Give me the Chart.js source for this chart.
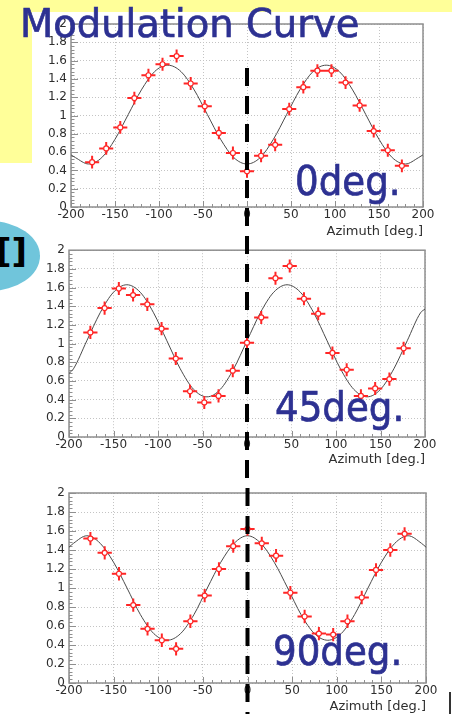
<!DOCTYPE html>
<html>
<head>
<meta charset="utf-8">
<script src="https://cdn.jsdelivr.net/npm/chart.js@4.4.1/dist/chart.umd.min.js"></script>
<style>
  html, body { margin: 0; padding: 0; background: #fff; }
  #page { position: relative; width: 452px; height: 714px; overflow: hidden; background: #fff; }
  .yellow { position: absolute; background: #ffff99; }
  #blob { position: absolute; left: -62px; top: 221px; width: 102px; height: 70px; border-radius: 50%; background: #70c5db; }
  #brackets { position: absolute; left: -4px; top: 234px; font: bold 34px "DejaVu Sans"; line-height: 1; color: #000; }
  #edge { position: absolute; left: 449px; top: 692px; width: 2px; height: 22px; background: #333; }
  canvas { position: absolute; left: 0; }
  .note { position: absolute; font-family: "DejaVu Sans"; color: #2d3192; line-height: 1; white-space: nowrap;
          z-index: 5; -webkit-text-stroke: 0.7px #2d3192; transform-origin: 0 0; }
  .deg { font-size: 40px; transform: scaleX(0.93); }
</style>
</head>
<body>
<div id="page">
  <div class="yellow" style="left:0;top:0;width:452px;height:12px"></div>
  <div class="yellow" style="left:0;top:0;width:32px;height:163px"></div>
  <div id="blob"></div>
  <div id="brackets">[]</div>
  <canvas id="c0"></canvas>
  <canvas id="c45"></canvas>
  <canvas id="c90"></canvas>
  <div class="note" style="left:20px;top:5px;font-size:38.5px">Modulation Curve</div>
  <div class="note deg" style="left:295px;top:161px">0deg.</div>
  <div class="note deg" style="left:275px;top:387px">45deg.</div>
  <div class="note deg" style="left:273px;top:631px">90deg.</div>
  <div id="edge"></div>
</div>
<script>
// bin centres (deg) and normalised counts per polarisation angle
const azimuth = [-176, -160, -144, -128, -112, -96, -80, -64, -48, -32, -16, 0,
                 16, 32, 48, 64, 80, 96, 112, 128, 144, 160, 176];
const counts0  = [0.49, 0.64, 0.87, 1.19, 1.44, 1.56, 1.65, 1.35, 1.10, 0.81, 0.59, 0.39,
                  0.56, 0.68, 1.07, 1.31, 1.49, 1.49, 1.36, 1.11, 0.83, 0.62, 0.45];
const counts45 = [1.12, 1.38, 1.59, 1.52, 1.42, 1.16, 0.84, 0.49, 0.37, 0.44, 0.71, 1.01,
                  1.28, 1.70, 1.83, 1.48, 1.32, 0.90, 0.72, 0.44, 0.52, 0.62, 0.95];
const counts90 = [1.52, 1.37, 1.15, 0.82, 0.57, 0.45, 0.36, 0.65, 0.92, 1.20, 1.44, 1.62,
                  1.47, 1.34, 0.95, 0.70, 0.52, 0.51, 0.65, 0.90, 1.19, 1.40, 1.57];
const xErr = 8;
const yErr = 0.07;

// fitted modulation curves, sampled every 15 deg
const fitAzimuth = [-200, -195, -180, -165, -150, -135, -120, -105, -90, -75, -60, -45, -30, -15, 0,
                    15, 30, 45, 60, 75, 90, 105, 120, 135, 150, 165, 180, 195, 200];
const fit0  = [0.57, 0.54, 0.47, 0.54, 0.74, 1.01, 1.28, 1.48, 1.55, 1.48, 1.28, 1.01, 0.74, 0.54, 0.47,
               0.54, 0.74, 1.01, 1.28, 1.48, 1.55, 1.48, 1.28, 1.01, 0.74, 0.54, 0.47, 0.54, 0.57];
const fit45 = [0.68, 0.73, 1.03, 1.33, 1.55, 1.63, 1.55, 1.33, 1.03, 0.73, 0.51, 0.43, 0.51, 0.73, 1.03,
               1.33, 1.55, 1.63, 1.55, 1.33, 1.03, 0.73, 0.51, 0.43, 0.51, 0.73, 1.03, 1.33, 1.37];
const fit90 = [1.43, 1.47, 1.55, 1.47, 1.27, 1.00, 0.72, 0.52, 0.45, 0.52, 0.72, 1.00, 1.27, 1.47, 1.55,
               1.47, 1.27, 1.00, 0.72, 0.52, 0.45, 0.52, 0.72, 1.00, 1.27, 1.47, 1.55, 1.47, 1.43];

const RED = '#ff2626';
const TEXT = '#2e2e2e';
const FONT = 'DejaVu Sans';

// ROOT-like frame with inward ticks on the bottom and left axes
const frameTicks = {
  id: 'frameTicks',
  beforeDatasetsDraw(chart) {
    const {ctx, chartArea: a, scales: {x, y}} = chart;
    ctx.save();
    ctx.strokeStyle = '#8f8f8f';
    ctx.lineWidth = 1;
    ctx.beginPath();
    for (let v = x.min; v <= x.max; v += 10) {
      const px = Math.round(x.getPixelForValue(v)) + 0.5;
      const len = v % 50 === 0 ? 6 : 3;
      ctx.moveTo(px, a.bottom);
      ctx.lineTo(px, a.bottom - len);
    }
    for (let i = 0; i <= 50; i++) {
      const py = Math.round(y.getPixelForValue(i * 0.04)) + 0.5;
      const len = i % 5 === 0 ? 7 : 3.5;
      ctx.moveTo(a.left, py);
      ctx.lineTo(a.left + len, py);
    }
    ctx.stroke();
    ctx.lineWidth = 1.5;
    ctx.strokeRect(a.left, a.top, a.right - a.left, a.bottom - a.top);
    ctx.restore();
  }
};

// error crosses under the markers (dataset 0)
const errorBars = {
  id: 'errorBars',
  beforeDatasetDraw(chart, args) {
    if (args.index !== 0) return;
    const {ctx, scales: {x, y}} = chart;
    ctx.save();
    ctx.strokeStyle = RED;
    ctx.lineWidth = 2;
    ctx.beginPath();
    chart.data.datasets[0].data.forEach(p => {
      const cx = x.getPixelForValue(p.x);
      const cy = y.getPixelForValue(p.y);
      ctx.moveTo(x.getPixelForValue(p.x - xErr), cy);
      ctx.lineTo(x.getPixelForValue(p.x + xErr), cy);
      ctx.moveTo(cx, y.getPixelForValue(p.y - yErr));
      ctx.lineTo(cx, y.getPixelForValue(p.y + yErr));
    });
    ctx.stroke();
    ctx.restore();
  }
};

// thick dashed marker at azimuth 0
const zeroLine = {
  id: 'zeroLine',
  afterDraw(chart, args, opts) {
    const {ctx, scales: {x, y}} = chart;
    const px = x.getPixelForValue(0);
    const top = opts.from != null ? y.getPixelForValue(opts.from) : 0;
    ctx.save();
    ctx.strokeStyle = '#000';
    ctx.lineWidth = 4;
    ctx.setLineDash([18, 10]);
    ctx.lineDashOffset = opts.phase || 0;
    ctx.beginPath();
    ctx.moveTo(px, top);
    ctx.lineTo(px, chart.height);
    ctx.stroke();
    ctx.restore();
  }
};

const panels = [
  {id: 'c0',  top: 12,  height: 227, plot: {left: 71, right: 423, top: 24,  bottom: 207}, titlePad: 0,
   counts: counts0, fit: fit0, dash: {from: 1.52, phase: 0}},
  {id: 'c45', top: 239, height: 239, plot: {left: 69, right: 425, top: 246, bottom: 437}, titlePad: 11,
   counts: counts45, fit: fit45, dash: {from: null, phase: 3}},
  {id: 'c90', top: 478, height: 236, plot: {left: 69, right: 426, top: 493, bottom: 683}, titlePad: 0,
   counts: counts90, fit: fit90, dash: {from: null, phase: 18}}
];

panels.forEach(p => {
  const canvas = document.getElementById(p.id);
  canvas.style.top = p.top + 'px';
  canvas.width = 452;
  canvas.height = p.height;

  new Chart(canvas, {
    type: 'scatter',
    data: {
      datasets: [
        {
          data: azimuth.map((a, i) => ({x: a, y: p.counts[i]})),
          pointRadius: 2.5,
          pointBackgroundColor: '#fff',
          pointBorderColor: RED,
          pointBorderWidth: 1.2
        },
        {
          data: fitAzimuth.map((a, i) => ({x: a, y: p.fit[i]})),
          showLine: true,
          pointRadius: 0,
          borderColor: '#4a4a4a',
          borderWidth: 1,
          cubicInterpolationMode: 'monotone'
        }
      ]
    },
    options: {
      responsive: false,
      animation: false,
      layout: {padding: {left: 0, top: p.plot.top - p.top, right: 452 - p.plot.right, bottom: 0}},
      plugins: {
        legend: {display: false},
        tooltip: {enabled: false},
        zeroLine: p.dash
      },
      scales: {
        x: {
          type: 'linear',
          min: -200,
          max: 200,
          ticks: {stepSize: 50, autoSkip: false, maxRotation: 0, padding: 1, color: TEXT,
                  font: {family: FONT, size: 12}},
          grid: {color: '#c4c4c4', drawTicks: false},
          border: {display: false, dash: [1, 2]},
          title: {display: true, text: 'Azimuth [deg.]', align: 'end', color: TEXT,
                  font: {family: FONT, size: 13}, padding: {top: 0, bottom: p.titlePad}},
          afterFit(s) { s.height = p.top + p.height - p.plot.bottom; }
        },
        y: {
          min: 0,
          max: 2,
          ticks: {stepSize: 0.2, padding: 4, color: TEXT, font: {family: FONT, size: 12},
                  callback: v => String(Math.round(v * 10) / 10)},
          grid: {color: '#c4c4c4', drawTicks: false},
          border: {display: false, dash: [1, 2]},
          afterFit(s) { s.width = p.plot.left; }
        }
      }
    },
    plugins: [frameTicks, errorBars, zeroLine]
  });
});
</script>
</body>
</html>
